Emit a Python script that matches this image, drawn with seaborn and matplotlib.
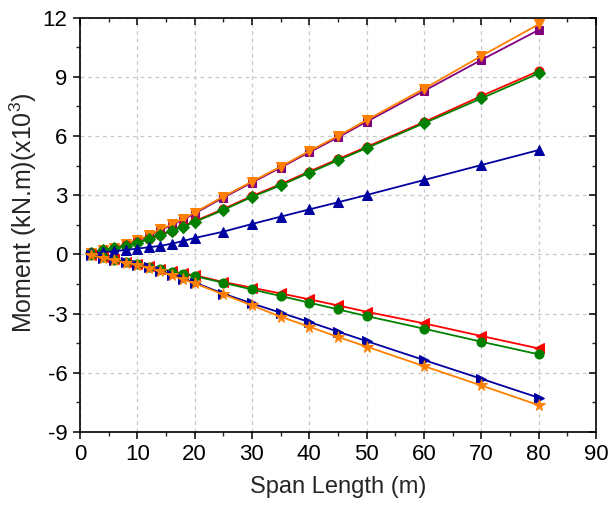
import matplotlib
matplotlib.use("Agg")
import matplotlib.pyplot as plt
from matplotlib.ticker import MultipleLocator
import numpy as np
import pandas as pd
import seaborn as sns

# Span lengths (m)
span = [2, 4, 6, 8, 10, 12, 14, 16, 18, 20, 25, 30, 35, 40, 45, 50, 60, 70, 80]

# Positive moments (kN.m x 10^3)
pos_square = [0.08, 0.20, 0.33, 0.49, 0.70, 0.93, 1.23, 1.48, 1.77, 2.07, 2.88, 3.64, 4.40, 5.18, 5.93, 6.73, 8.29, 9.86, 11.38]
pos_dtri = [0.09, 0.22, 0.34, 0.51, 0.73, 0.96, 1.27, 1.52, 1.81, 2.12, 2.93, 3.69, 4.45, 5.24, 6.00, 6.81, 8.40, 10.06, 11.67]
pos_circle = [0.09, 0.21, 0.33, 0.45, 0.61, 0.79, 0.99, 1.21, 1.43, 1.68, 2.30, 2.96, 3.56, 4.20, 4.83, 5.45, 6.71, 8.03, 9.30]
pos_diamond = [0.09, 0.20, 0.32, 0.43, 0.59, 0.76, 0.96, 1.18, 1.40, 1.64, 2.25, 2.91, 3.50, 4.14, 4.77, 5.39, 6.65, 7.91, 9.18]
pos_utri = [0.05, 0.10, 0.16, 0.22, 0.29, 0.36, 0.43, 0.54, 0.68, 0.83, 1.15, 1.54, 1.91, 2.28, 2.64, 3.01, 3.77, 4.53, 5.29]

# Negative moments (kN.m x 10^3)
neg_ltri = [-0.05, -0.15, -0.26, -0.37, -0.49, -0.61, -0.73, -0.86, -0.97, -1.06, -1.40, -1.69, -1.98, -2.28, -2.59, -2.91, -3.50, -4.14, -4.77]
neg_circle = [-0.05, -0.15, -0.27, -0.38, -0.50, -0.62, -0.74, -0.88, -1.00, -1.10, -1.44, -1.78, -2.11, -2.45, -2.79, -3.13, -3.77, -4.43, -5.07]
neg_rtri = [-0.05, -0.16, -0.29, -0.41, -0.53, -0.66, -0.83, -1.04, -1.24, -1.43, -1.99, -2.49, -2.96, -3.43, -3.92, -4.40, -5.36, -6.31, -7.27]
neg_star = [-0.05, -0.17, -0.30, -0.42, -0.54, -0.67, -0.85, -1.07, -1.27, -1.47, -2.03, -2.59, -3.16, -3.67, -4.19, -4.68, -5.67, -6.65, -7.65]

x_ticks = [0, 10, 20, 30, 40, 50, 60, 70, 80, 90]
y_ticks = [-9, -6, -3, 0, 3, 6, 9, 12]

sns.set_style("ticks")
plt.rcParams["font.family"] = ["Liberation Sans", "DejaVu Sans"]
plt.rcParams["mathtext.fontset"] = "custom"
plt.rcParams["mathtext.rm"] = "Liberation Sans"
plt.rcParams["mathtext.default"] = "regular"

fig = plt.figure(figsize=(6.10, 5.08), dpi=100)
ax = fig.add_axes([0.131, 0.150, 0.846, 0.815])

series = [
    (pos_square, "#800080", "s", 6.0),
    (pos_dtri, "#FF8000", "v", 7.0),
    (pos_circle, "#FF0000", "o", 6.5),
    (pos_diamond, "#008000", "D", 6.0),
    (pos_utri, "#0000A0", "^", 7.0),
    (neg_ltri, "#FF0000", "<", 7.0),
    (neg_circle, "#008000", "o", 6.5),
    (neg_rtri, "#0000A0", ">", 7.0),
    (neg_star, "#FF8000", "*", 8.5),
]

for vals, col, mk, ms in series:
    df = pd.DataFrame({"span": span, "moment": vals})
    sns.lineplot(data=df, x="span", y="moment", ax=ax, color=col, marker=mk,
                 markersize=ms, markeredgecolor=col, linewidth=1.3, zorder=3)

ax.set_xlim(0, 90)
ax.set_ylim(-9, 12)
ax.set_xticks(x_ticks)
ax.set_yticks(y_ticks)
ax.set_xticklabels([str(t) for t in x_ticks])
ax.set_yticklabels([str(t) for t in y_ticks])
ax.xaxis.set_minor_locator(MultipleLocator(5))
ax.yaxis.set_minor_locator(MultipleLocator(1.5))

ax.grid(True, which="major", color="#c8c8c8", linestyle=(0, (3, 3)), linewidth=0.9, zorder=0)
ax.set_axisbelow(True)

for s in ax.spines.values():
    s.set_visible(True)
    s.set_color("black")
    s.set_linewidth(1.2)

ax.tick_params(axis="both", which="major", direction="out", length=5, width=1.1,
               labelsize=16, colors="black", pad=4)
ax.tick_params(axis="both", which="minor", direction="out", length=3, width=1.0)
ax.tick_params(axis="both", which="both", top=True, right=True)
ax.tick_params(axis="x", which="both", top=True, labeltop=False)
ax.tick_params(axis="y", which="both", right=True, labelright=False)

# ticks on the top and right frame point inward
for t in ax.xaxis.get_major_ticks() + ax.xaxis.get_minor_ticks():
    t.tick2line.set_marker(matplotlib.lines.TICKDOWN)
for t in ax.yaxis.get_major_ticks() + ax.yaxis.get_minor_ticks():
    t.tick2line.set_marker(matplotlib.lines.TICKLEFT)

ax.set_xlabel("Span Length (m)", fontsize=17, labelpad=8)
ax.set_ylabel(r"Moment (kN.m)(x10$^{3}$)", fontsize=18)
ax.yaxis.set_label_coords(-0.08, 0.53)

fig.savefig("out.png", dpi=100)
